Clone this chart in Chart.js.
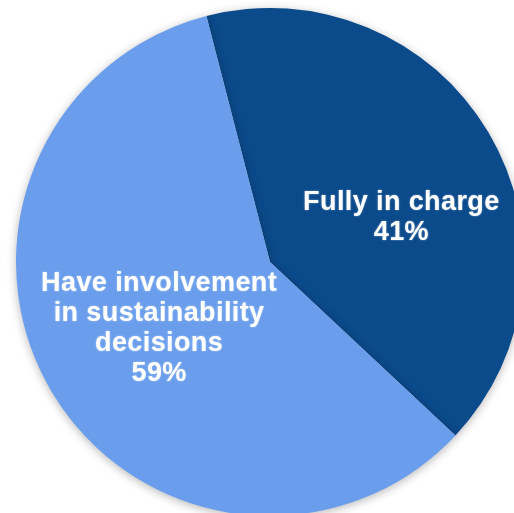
<!DOCTYPE html>
<html>
<head>
<meta charset="utf-8">
<script src="https://cdn.jsdelivr.net/npm/chart.js@4/dist/chart.umd.min.js"></script>
<style>
  html, body { margin: 0; padding: 0; background: #ffffff; overflow: hidden; width: 514px; height: 513px; }
  #wrap { position: absolute; left: 0; top: 0; width: 540px; height: 524px; }
</style>
</head>
<body>
<div id="wrap"><canvas id="c"></canvas></div>
<script>
const categories = ["Fully in charge", "Have involvement in sustainability decisions"];
const values = [41, 59];
const labelLines = [["Fully in charge", "41%"], ["Have involvement", "in sustainability", "decisions", "59%"]];
const colors = ["#0B4A8B", "#6A9EEC"];

const shadowPlugin = {
  id: 'pieShadow',
  beforeDatasetsDraw(chart) {
    const ctx = chart.ctx;
    ctx.save();
    ctx.shadowColor = 'rgba(0,0,0,0.28)';
    ctx.shadowBlur = 10;
    ctx.shadowOffsetX = 0;
    ctx.shadowOffsetY = 2;
  },
  afterDatasetsDraw(chart) {
    chart.ctx.restore();
  }
};

// label placement: angle (deg, clockwise from top) and fraction of radius
const labelPlace = [{ ang: 71.3, frac: 0.546 }, { ang: 238.9, frac: 0.51 }];

const labelPlugin = {
  id: 'sliceLabels',
  afterDatasetsDraw(chart) {
    const ctx = chart.ctx;
    const meta = chart.getDatasetMeta(0);
    ctx.save();
    ctx.font = 'bold 27px "Liberation Sans", Arial, sans-serif';
    if ('letterSpacing' in ctx) ctx.letterSpacing = '0.4px';
    ctx.fillStyle = '#ffffff';
    ctx.textAlign = 'center';
    ctx.textBaseline = 'middle';
    ctx.shadowColor = 'rgba(255,255,255,0.5)';
    ctx.shadowBlur = 2;
    const lh = 30;
    meta.data.forEach((arc, i) => {
      const p = arc.getProps(['x', 'y', 'outerRadius'], true);
      const a = (labelPlace[i].ang - 90) * Math.PI / 180;
      const r = p.outerRadius * labelPlace[i].frac;
      const cx = p.x + Math.cos(a) * r;
      const cy = p.y + Math.sin(a) * r;
      const lines = labelLines[i];
      const startY = cy - (lines.length - 1) * lh / 2;
      lines.forEach((t, j) => ctx.fillText(t, cx, startY + j * lh));
    });
    ctx.restore();
  }
};

new Chart(document.getElementById('c'), {
  type: 'pie',
  data: {
    labels: categories,
    datasets: [{
      data: values,
      backgroundColor: colors,
      borderWidth: 0
    }]
  },
  options: {
    responsive: true,
    maintainAspectRatio: false,
    animation: false,
    rotation: -14.5,
    layout: { padding: 8 },
    plugins: {
      legend: { display: false },
      tooltip: { enabled: false }
    }
  },
  plugins: [shadowPlugin, labelPlugin]
});
</script>
</body>
</html>
